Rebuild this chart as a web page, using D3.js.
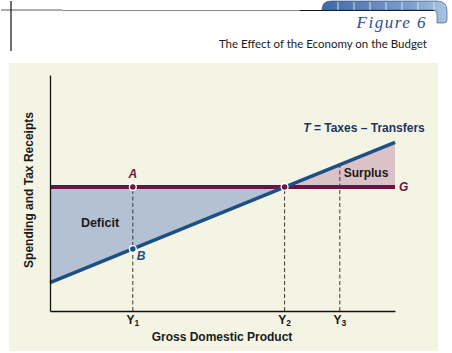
<!DOCTYPE html>
<html>
<head>
<meta charset="utf-8">
<script src="https://cdn.jsdelivr.net/npm/d3@7"></script>
<style>
  html, body { margin: 0; padding: 0; background: #fff; }
  svg { display: block; }
  .lbl { font-family: "Liberation Sans Narrow", "Arial Narrow", "Liberation Sans", sans-serif; font-weight: bold; }
</style>
</head>
<body>
<svg id="chart" width="452" height="353"></svg>
<script>
// Figure 6 · The Effect of the Economy on the Budget
// Government purchases G is flat; net taxes T rise with GDP.

// GDP positions (0..100 on the x domain) and their tick labels
var gdpTicks = [24, 68, 84];
var gdpLabels = ['1', '2', '3'];            // Y subscripts
var guideTop = [52.5, 52.5, 62];            // where each dashed guide stops

// net taxes T, read at a few GDP values
var taxGdp = [0, 24, 68, 100];
var taxVal = [12, 26.3, 52.5, 71.5];

// government purchases G (flat)
var govGdp = [0, 100];
var govVal = [52.5, 52.5];

// marked points
var markNames = ['A', 'B', ''];
var markGdp = [24, 24, 68];
var markVal = [52.5, 26.3, 52.5];

var svg = d3.select('#chart');

var C = {
    bg: '#f4f4e5',
    gov: '#6f1242',
    tax: '#1c4f82',
    deficit: '#b4c0d3',
    surplus: '#dbc2c9',
    dash: '#3a3a3a',
    ink: '#1a1a1a',
    blue: '#2d4f8e'
};

// ---------- header ----------
var defs = svg.append('defs');
var grad = defs.append('linearGradient').attr('id', 'tabGrad')
    .attr('x1', 0).attr('x2', 1).attr('y1', 0).attr('y2', 0);
grad.append('stop').attr('offset', '0%').attr('stop-color', '#3f6aa6');
grad.append('stop').attr('offset', '70%').attr('stop-color', '#7d9fcd');
grad.append('stop').attr('offset', '100%').attr('stop-color', '#a9c3e2');

svg.append('line').attr('x1', 1).attr('x2', 62).attr('y1', 10).attr('y2', 10)
    .attr('stroke', '#adadad').attr('stroke-width', 2);
svg.append('line').attr('x1', 62).attr('x2', 300).attr('y1', 10.5).attr('y2', 10.5)
    .attr('stroke', '#8a8a8a').attr('stroke-width', 1);
svg.append('line').attr('x1', 300).attr('x2', 436).attr('y1', 10.5).attr('y2', 10.5)
    .attr('stroke', '#111').attr('stroke-width', 1);
svg.append('line').attr('x1', 11).attr('x2', 11).attr('y1', 1).attr('y2', 51)
    .attr('stroke', '#111').attr('stroke-width', 1.2);

svg.append('path')
    .attr('d', 'M322,10 Q322,1 331,1 L437,1 Q447,1 447,11 L447,20 Q447,23 443,23 L437,23 L437,15 Q437,10 432,10 Z')
    .attr('fill', 'url(#tabGrad)')
    .attr('stroke', '#2a4a7c').attr('stroke-width', 0.6);
d3.range(338, 437, 16).forEach(function (xx) {
    svg.append('line').attr('x1', xx).attr('x2', xx).attr('y1', 2).attr('y2', 10)
        .attr('stroke', '#e6eef8').attr('stroke-width', 1).attr('opacity', 0.85);
});

svg.append('text')
    .attr('x', 427).attr('y', 28)
    .attr('text-anchor', 'end')
    .style('font-family', '"Liberation Serif", "DejaVu Serif", serif')
    .style('font-style', 'italic')
    .style('font-size', '17px')
    .style('letter-spacing', '1.5px')
    .attr('fill', C.blue)
    .text('Figure 6');

svg.append('text')
    .attr('x', 427).attr('y', 48)
    .attr('text-anchor', 'end')
    .style('font-family', 'Lato, "Open Sans", sans-serif')
    .style('font-size', '11.5px')
    .attr('fill', '#1a1a1a')
    .text('The Effect of the Economy on the Budget');

// ---------- panel ----------
svg.append('rect').attr('x', 9).attr('y', 63).attr('width', 429).attr('height', 288)
    .attr('fill', C.bg);

var x = d3.scaleLinear().domain([0, 100]).range([50, 395]);
var y = d3.scaleLinear().domain([0, 100]).range([311, 75]);

var tax = taxGdp.map(function (g, i) { return [g, taxVal[i]]; });
var gov = govGdp.map(function (g, i) { return [g, govVal[i]]; });

var area = d3.area()
    .x(function (d) { return x(d[0]); })
    .y0(function () { return y(govVal[0]); })
    .y1(function (d) { return y(d[1]); });

var deficitPts = tax.filter(function (d) { return d[0] <= gdpTicks[1]; });
var surplusPts = tax.filter(function (d) { return d[0] >= gdpTicks[1]; });

svg.append('path').datum(deficitPts).attr('d', area).attr('fill', C.deficit);
svg.append('path').datum(surplusPts).attr('d', area).attr('fill', C.surplus);

// dashed guides from each Y up to the curves
gdpTicks.forEach(function (g, i) {
    svg.append('line')
        .attr('x1', x(g)).attr('x2', x(g))
        .attr('y1', y(0)).attr('y2', y(guideTop[i]))
        .attr('stroke', C.dash).attr('stroke-width', 1)
        .attr('stroke-dasharray', '4,2.5');
});

var line = d3.line().x(function (d) { return x(d[0]); }).y(function (d) { return y(d[1]); });
svg.append('path').datum(gov).attr('d', line)
    .attr('fill', 'none').attr('stroke', C.gov).attr('stroke-width', 4);
svg.append('path').datum(tax).attr('d', line)
    .attr('fill', 'none').attr('stroke', C.tax).attr('stroke-width', 3.5);

// axes
var xAxis = d3.axisBottom(x).tickValues(gdpTicks).tickSize(0).tickFormat('');
var yAxis = d3.axisLeft(y).tickValues([]).tickSize(0);
svg.append('g').attr('transform', 'translate(0,' + y(0) + ')').call(xAxis)
    .select('.domain').attr('stroke', '#111').attr('stroke-width', 1.3);
svg.append('g').attr('transform', 'translate(' + x(0) + ',0)').call(yAxis)
    .select('.domain').attr('stroke', '#111').attr('stroke-width', 1.3);

// points
markGdp.forEach(function (g, i) {
    svg.append('circle')
        .attr('cx', x(g)).attr('cy', y(markVal[i])).attr('r', 3.4)
        .attr('fill', i === 1 ? C.tax : C.gov)
        .attr('stroke', '#fff').attr('stroke-width', 1.3);
});

// ---------- labels ----------
function label(t, px, py, opt) {
    opt = opt || {};
    return svg.append('text').attr('class', 'lbl')
        .attr('x', px).attr('y', py)
        .attr('text-anchor', opt.anchor || 'start')
        .style('font-size', (opt.size || 12) + 'px')
        .style('font-style', opt.italic ? 'italic' : 'normal')
        .attr('fill', opt.fill || C.ink)
        .text(t);
}

label(markNames[0], x(markGdp[0]), 178, { anchor: 'middle', italic: true, fill: C.gov, size: 12 });
label(markNames[1], x(markGdp[1]) + 4, 260, { italic: true, fill: C.tax, size: 12 });
label('G', x(100) + 4, 191, { italic: true, fill: C.gov, size: 12 });
label('Deficit', 100, 227, { anchor: 'middle', size: 12.5 });
label('Surplus', 366, 177, { anchor: 'middle', size: 12 });

var tt = label('', 364, 132, { anchor: 'middle', size: 12, fill: '#1e3461' });
tt.append('tspan').style('font-style', 'italic').text('T');
tt.append('tspan').text(' = Taxes \u2013 Transfers');

gdpTicks.forEach(function (g, i) {
    var t = label('', x(g), 324, { anchor: 'middle', size: 12 });
    t.append('tspan').text('Y');
    t.append('tspan').attr('dy', 2).style('font-size', '8.5px').text(gdpLabels[i]);
});

label('Gross Domestic Product', 222, 341, { anchor: 'middle', size: 12 });

svg.append('text').attr('class', 'lbl')
    .attr('transform', 'translate(33,190) rotate(-90)')
    .attr('text-anchor', 'middle')
    .style('font-size', '12px')
    .attr('fill', C.ink)
    .text('Spending and Tax Receipts');
</script>
</body>
</html>
